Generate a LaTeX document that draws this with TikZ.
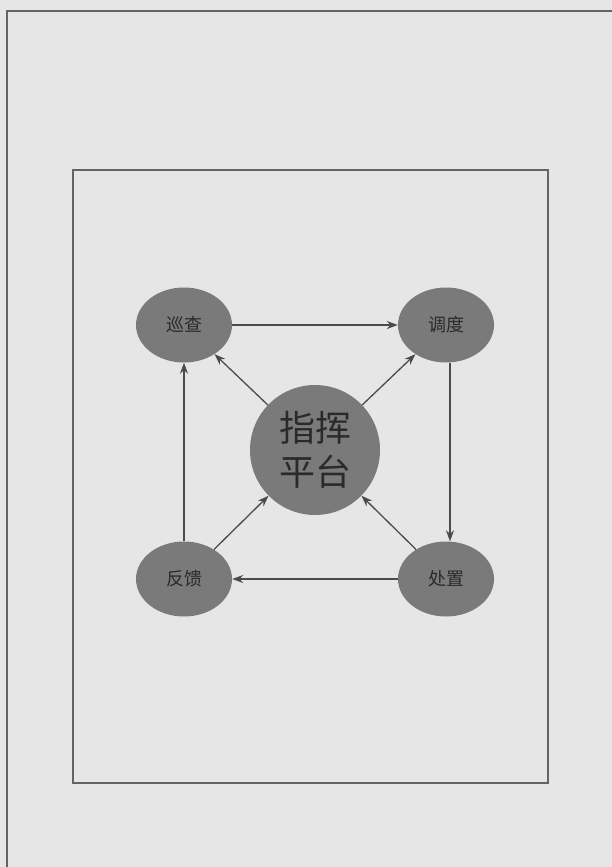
\documentclass[tikz,border=0pt]{standalone}
\usepackage{fontspec}
\newfontfamily\cjk{Noto Sans CJK SC}
\usetikzlibrary{arrows.meta,shapes.geometric}
\definecolor{paper}{RGB}{230,230,230}
\definecolor{ellfill}{RGB}{122,122,122}
\definecolor{linecol}{RGB}{75,75,75}
\definecolor{txtcol}{RGB}{42,42,42}
\definecolor{framecol}{RGB}{100,100,100}
\tikzset{
  smallell/.style={ellipse, fill=ellfill, minimum width=96pt, minimum height=75pt, inner sep=0pt,
    text=txtcol, font=\cjk\fontsize{18}{18}\selectfont},
  hub/.style={circle, fill=ellfill, minimum size=130pt, inner sep=0pt, text=txtcol,
    align=center, font=\cjk\fontsize{36}{44}\selectfont},
  conn/.style={draw=linecol, line width=1.3pt, -{Stealth[length=11pt,width=8pt]}},
  frame/.style={draw=framecol, line width=1.4pt}
}
\begin{document}
\begin{tikzpicture}[x=1pt,y=-1pt]
\fill[paper] (0,0) rectangle (612,867);
\useasboundingbox (0,0) rectangle (612,867);
\draw[frame] (7,867) -- (7,11) -- (612,11);
\draw[frame] (73,170) rectangle (548,783);
\node[smallell] (xc) at (184,325) {巡查};
\node[smallell] (dd) at (446,325) {调度};
\node[smallell] (fk) at (184,579) {反馈};
\node[smallell] (cz) at (446,579) {处置};
\node[hub] (pt) at (315,450) {指挥\\平台};
\draw[conn] (xc) -- (dd);
\draw[conn] (dd.south) ++(4,0) coordinate (ddb) -- (ddb |- cz.north);
\draw[conn] (cz) -- (fk);
\draw[conn] (fk.north) -- (xc.south);
\draw[conn] (pt) -- (xc);
\draw[conn] (pt) -- (dd);
\draw[conn] (fk) -- (pt);
\draw[conn] (cz) -- (pt);
\end{tikzpicture}
\end{document}
